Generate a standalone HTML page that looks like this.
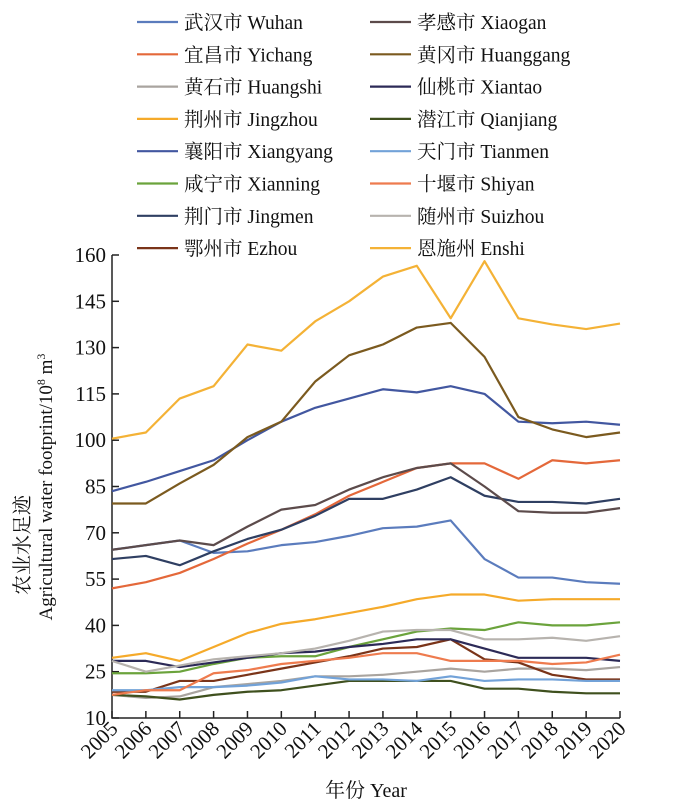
<!DOCTYPE html>
<html><head><meta charset="utf-8"><style>
body{margin:0;background:#fff;}
svg text{font-family:"Liberation Serif","Noto Serif CJK SC",serif;fill:#111;}
</style></head><body>
<svg id="chart" width="700" height="806" viewBox="0 0 700 806" xmlns="http://www.w3.org/2000/svg">
<g id="legend"></g>
<g id="axes"></g>
<g id="series"></g>
<text transform="translate(29,545) rotate(-90)" text-anchor="middle" font-size="20">农业水足迹</text>
<text transform="translate(52,487) rotate(-90)" text-anchor="middle" font-size="19">Agricultural water footprint/10<tspan dy="-7" font-size="12">8</tspan><tspan dy="7"> m</tspan><tspan dy="-7" font-size="12">3</tspan></text>
<text x="366" y="797" text-anchor="middle" font-size="20">年份 Year</text>
</svg>
<script>
const years = [2005,2006,2007,2008,2009,2010,2011,2012,2013,2014,2015,2016,2017,2018,2019,2020];
const yTicks = [10,25,40,55,70,85,100,115,130,145,160];
const names = ["武汉市 Wuhan","宜昌市 Yichang","黄石市 Huangshi","荆州市 Jingzhou","襄阳市 Xiangyang","咸宁市 Xianning","荆门市 Jingmen","鄂州市 Ezhou","孝感市 Xiaogan","黄冈市 Huanggang","仙桃市 Xiantao","潜江市 Qianjiang","天门市 Tianmen","十堰市 Shiyan","随州市 Suizhou","恩施州 Enshi"];
const colors = ["#5b7cbd","#e4683a","#a9a49f","#f5aa2a","#4257a0","#6ba33c","#2f3f62","#7a3419","#5c4b4b","#7b5a1f","#2c2a57","#3f501e","#72a2d8","#ee7b4e","#b7b3ae","#f4b236"];
const wuhan = [64.5,66,67.5,63.5,64,66,67,69,71.5,72,74,61.5,55.5,55.5,54,53.5];
const yichang = [52,54,57,61.5,66.5,71,76,82,86.5,91,92.5,92.5,87.5,93.5,92.5,93.5];
const huangshi = [17.5,16.5,17,20,21,22,23.5,23.5,24,25,26,25,26,26,25.5,26.5];
const jingzhou = [29.5,31,28.5,33,37.5,40.5,42,44,46,48.5,50,50,48,48.5,48.5,48.5];
const xiangyang = [83.5,86.5,90,93.5,100,106,110.5,113.5,116.5,115.5,117.5,115,106,105.5,106,105];
const xianning = [24.5,24.5,25,27.5,29.5,30,30,33,35.5,38,39,38.5,41,40,40,41];
const jingmen = [61.5,62.5,59.5,64,68,71,75.5,81,81,84,88,82,80,80,79.5,81];
const ezhou = [18.5,18.5,22,22,24,26,28,30,32.5,33,35.5,29,28,24,22.5,22.5];
const xiaogan = [64.5,66,67.5,66,72,77.5,79,84,88,91,92.5,85,77,76.5,76.5,78];
const huanggang = [79.5,79.5,86,92,101,106,119,127.5,131,136.5,138,127,107.5,103.5,101,102.5];
const xiantao = [28.5,28.5,26.5,28,29.5,31,31.5,33,34,35.5,35.5,32.5,29.5,29.5,29.5,28.5];
const qianjiang = [17.5,17,16,17.5,18.5,19,20.5,22,22,22,22,19.5,19.5,18.5,18,18];
const tianmen = [19,19,20,20,20.5,21.5,23.5,22.5,22.5,22,23.5,22,22.5,22.5,22,22];
const shiyan = [17.5,19,19,24.5,25.5,27.5,28.5,29.5,31,31,28.5,28.5,28.5,27.5,28,30.5];
const suizhou = [28.5,25,27,29,30,31,32.5,35,38,38.5,38.5,35.5,35.5,36,35,36.5];
const enshi = [100.5,102.5,113.5,117.5,131,129,138.5,145,153,156.5,139.5,158,139.5,137.5,136,137.8];
const seriesData = [wuhan,yichang,huangshi,jingzhou,xiangyang,xianning,jingmen,ezhou,xiaogan,huanggang,xiantao,qianjiang,tianmen,shiyan,suizhou,enshi];
const seriesKeys = ["wuhan","yichang","huangshi","jingzhou","xiangyang","xianning","jingmen","ezhou","xiaogan","huanggang","xiantao","qianjiang","tianmen","shiyan","suizhou","enshi"];

const NS="http://www.w3.org/2000/svg";
const X0=112,X1=620,Y0=718,Y1=255,VMIN=10,VMAX=160;
function xs(i){return X0+(X1-X0)*i/(years.length-1);}
function ys(v){return Y0-(v-VMIN)/(VMAX-VMIN)*(Y0-Y1);}
function mk(tag,attrs,parent){const e=document.createElementNS(NS,tag);for(const k in attrs)e.setAttribute(k,attrs[k]);parent.appendChild(e);return e;}
const axes=document.getElementById('axes');
let a=mk('path',{d:`M${X0},${Y1}V${Y0}H${X1}`,fill:'none',stroke:'#222','stroke-width':1.5},axes);


yTicks.forEach(v=>{
  const t=mk('line',{x1:X0,x2:X0+7,y1:ys(v),y2:ys(v),stroke:'#222','stroke-width':1.5},axes);
  
  
  const l=mk('text',{x:X0-6,y:ys(v)+7,'text-anchor':'end','font-size':21},axes);
  l.textContent=v;
  
  
});
years.forEach((yr,i)=>{
  const t=mk('line',{x1:xs(i),x2:xs(i),y1:Y0,y2:Y0-7,stroke:'#222','stroke-width':1.5},axes);
  
  
  const l=mk('text',{transform:`translate(${xs(i)+7},${Y0+12}) rotate(-45)`,'text-anchor':'end','font-size':21},axes);
  l.textContent=yr;
  
  
});
const sg=document.getElementById('series');
seriesData.forEach((d,s)=>{
  const p=mk('polyline',{points:d.map((v,i)=>xs(i)+','+ys(v)).join(' '),fill:'none',stroke:colors[s],'stroke-width':2.2,'stroke-linejoin':'round'},sg);
  
  
});
const lg=document.getElementById('legend');
names.forEach((n,s)=>{
  const col=s<8?0:1,row=s%8;
  const lx=col?370:137,y=22+row*32.3;
  const g=mk('g',{},lg);
  
  
  mk('line',{x1:lx,x2:lx+41,y1:y,y2:y,stroke:colors[s],'stroke-width':2.2},g);
  const t=mk('text',{x:lx+47,y:y+7,'font-size':19.5},g);
  t.textContent=n;
});
</script>
</body></html>
